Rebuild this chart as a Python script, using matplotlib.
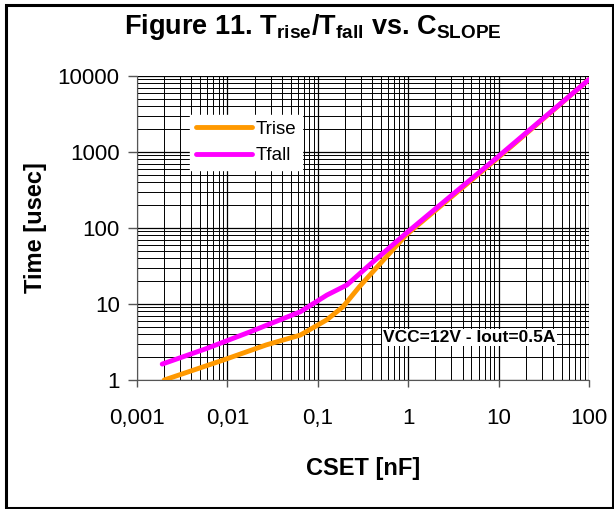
import matplotlib
matplotlib.use("Agg")
import matplotlib.pyplot as plt
from matplotlib.patches import Rectangle
from matplotlib.ticker import FixedLocator, LogLocator, NullFormatter

plt.rcParams['font.family'] = ['Liberation Sans', 'DejaVu Sans']
plt.rcParams['mathtext.fontset'] = 'custom'
plt.rcParams['mathtext.bf'] = 'Liberation Sans:bold'
plt.rcParams['mathtext.rm'] = 'Liberation Sans'
plt.rcParams['mathtext.default'] = 'bf'

# Trise / Tfall vs CSET (nF)
cset_rise = [0.002, 0.009, 0.027, 0.064, 0.126, 0.19, 0.29, 0.49, 0.96, 10, 100]
trise = [1.0, 1.83, 2.9, 3.9, 6.2, 9.2, 17, 34, 82, 850, 9000]

cset_fall = [0.0019, 0.0059, 0.0178, 0.064, 0.126, 0.21, 0.41, 1.0, 10, 100]
tfall = [1.62, 2.6, 4.3, 7.9, 13.1, 17.8, 36, 90, 880, 9000]

x_ticks = [0.001, 0.01, 0.1, 1, 10, 100]
x_labels = ["0,001", "0,01", "0,1", "1", "10", "100"]
y_ticks = [1, 10, 100, 1000, 10000]
y_labels = ["1", "10", "100", "1000", "10000"]

fig = plt.figure(figsize=(6.14, 5.09), dpi=100)
ax = fig.add_axes([137 / 614, 129 / 509, 452 / 614, 304 / 509])

ax.plot(cset_rise, trise, color='#ff9900', lw=3.5, label='Trise', solid_capstyle='round')
ax.plot(cset_fall, tfall, color='#ff00ff', lw=3.5, label='Tfall', solid_capstyle='round')

ax.set_xscale('log')
ax.set_yscale('log')
ax.set_xlim(0.001, 100)
ax.set_ylim(1, 10000)

ax.xaxis.set_major_locator(FixedLocator(x_ticks))
ax.set_xticklabels(x_labels)
ax.yaxis.set_major_locator(FixedLocator(y_ticks))
ax.set_yticklabels(y_labels)
ax.xaxis.set_minor_locator(LogLocator(base=10, subs=range(2, 10), numticks=20))
ax.yaxis.set_minor_locator(LogLocator(base=10, subs=range(2, 10), numticks=20))
ax.xaxis.set_minor_formatter(NullFormatter())
ax.yaxis.set_minor_formatter(NullFormatter())

ax.grid(True, which='major', color='black', lw=0.9)
ax.grid(True, which='minor', color='black', lw=0.7)
ax.set_axisbelow(True)

for s in ['top', 'right']:
    ax.spines[s].set_visible(False)
ax.spines['left'].set_color('#555555')
ax.spines['bottom'].set_color('#555555')

ax.tick_params(axis='y', which='major', direction='out', length=6.5, width=1,
               colors='#555555', labelcolor='black', labelsize=16, pad=6)
ax.tick_params(axis='x', which='major', direction='out', length=5, width=1,
               colors='#555555', labelcolor='black', labelsize=16, pad=15)
ax.tick_params(which='minor', length=0)

ax.set_xlabel('CSET [nF]', fontsize=17, fontweight='bold', labelpad=20)
ax.set_ylabel('Time [usec]', fontsize=17, fontweight='bold', labelpad=8)

fig.text(0.51, 0.947, r"Figure 11. T$_{rise}$/T$_{fall}$ vs. C$_{SLOPE}$",
         ha='center', va='center', fontsize=19.5, fontweight='bold')

leg = ax.legend(loc='upper left', bbox_to_anchor=(0.117, 0.872), fontsize=13.5,
                frameon=True, fancybox=False, edgecolor='white', framealpha=1,
                handlelength=3.0, borderpad=0.3, labelspacing=0.5, handletextpad=0.2,
                borderaxespad=0)

ax.text(0.735, 0.14, "VCC=12V - Iout=0.5A", transform=ax.transAxes,
        ha='center', va='center', fontsize=12.5, fontweight='bold',
        bbox=dict(facecolor='white', edgecolor='none', pad=1))

fig.patches.append(Rectangle((6 / 614, 1 / 509), 607 / 614, 503 / 509,
                             transform=fig.transFigure, fill=False,
                             edgecolor='black', lw=2.2))

fig.savefig('out.png', dpi=100)
